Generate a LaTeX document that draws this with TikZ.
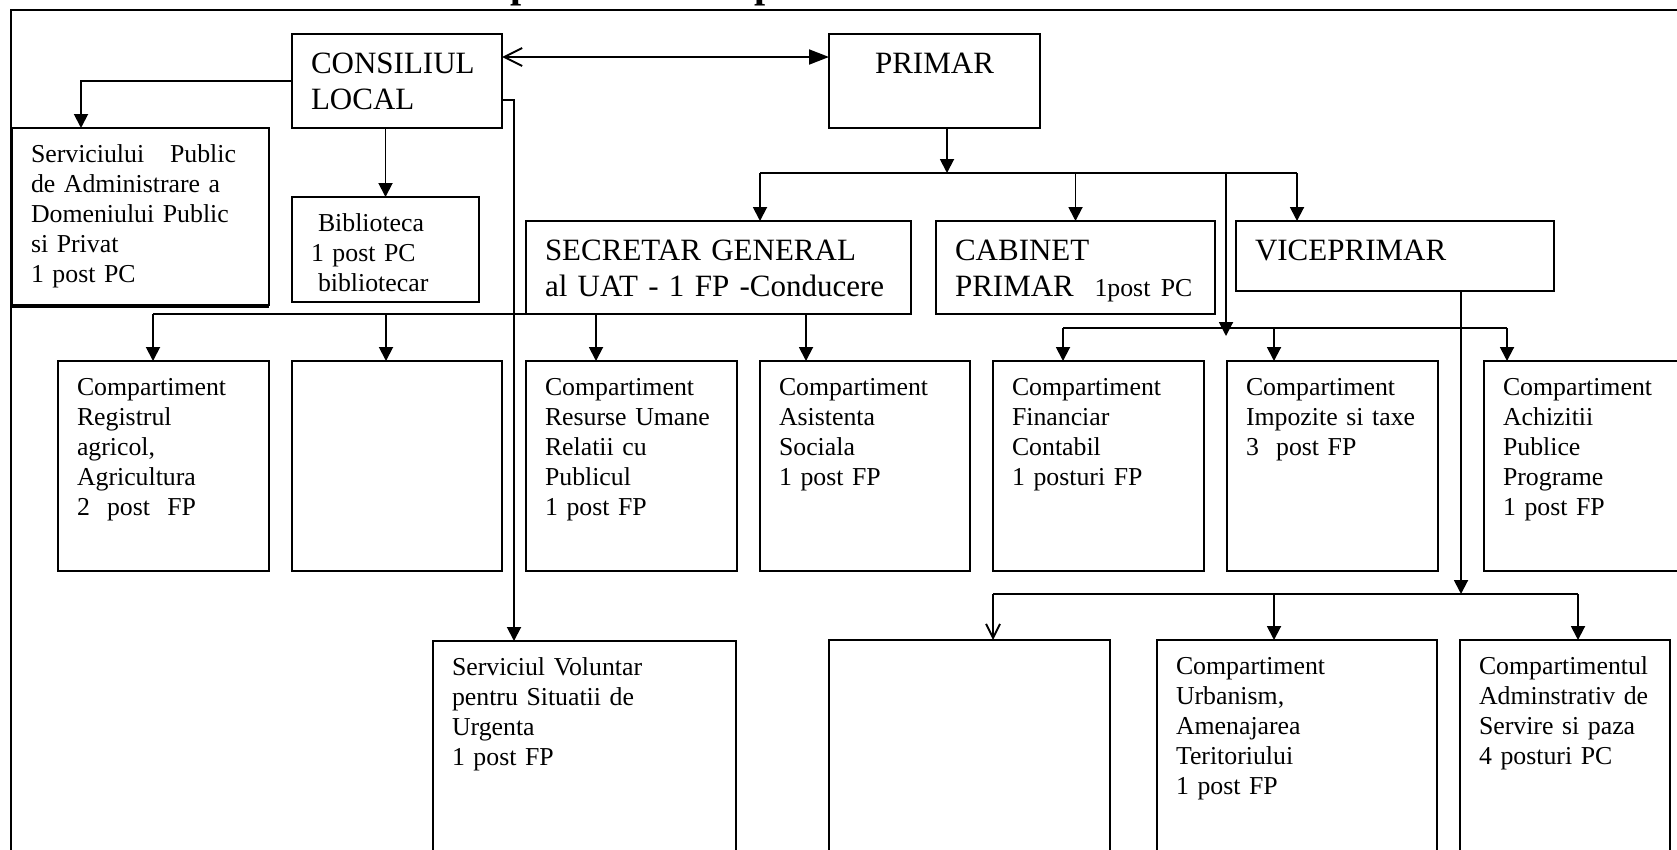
\documentclass[tikz,border=0pt]{standalone}
\usepackage{fontspec}
\setmainfont{Liberation Serif}
\usetikzlibrary{arrows.meta}
\newcommand{\normtxt}{\fontsize{25.8}{30}\selectfont}
\newcommand{\bigtxt}{\fontsize{31}{36}\selectfont}
\begin{document}
\begin{tikzpicture}
[x=1pt,y=-1pt,
 cell/.style={rectangle,draw,line width=2pt,anchor=north west,outer sep=0pt,inner xsep=19pt,inner ysep=13pt,align=left,font=\normtxt,text height=21pt},
 bigcell/.style={cell,font=\bigtxt,text height=26pt},
 ttl/.style={font=\bfseries\fontsize{40}{40}\selectfont,anchor=base west,inner sep=0pt},
 link/.style={line width=1.9pt},
 arr/.style={link,-{Triangle[length=14pt,width=14pt]}},
 openarr/.style={link,-{Straight Barb[length=14pt,width=14pt]}},
 hv path/.style={to path={-| (\tikztotarget)}},
 vh path/.style={to path={|- (\tikztotarget)}}]
\useasboundingbox (0,0) rectangle (1677,849);
\draw[line width=2.5pt] (11,10) rectangle (1730,900);
% cut title
\node[ttl] (ttlA) at (510,-2.5) {p};
\node[ttl] (ttlB) at (754,-2.5) {p};
% top
\node[bigcell,text width=172pt,text depth=42pt] (cl)     at ( 292, 34) {CONSILIUL\\LOCAL};
\node[bigcell,text width=173pt,text depth=42pt,align=center] (primar) at ( 829, 34) {PRIMAR};
\node[cell,text width=219pt,text depth=130pt]   (svc)    at (  12,128) {Serviciului~~~Public\\de Administrare a\\Domeniului Public\\si Privat\\1 post PC};
\node[cell,text width=149pt,text depth=58pt]    (bib)    at ( 292,197) {\hspace*{7pt}Biblioteca\\1 post PC\\\hspace*{7pt}bibliotecar};
\node[bigcell,text width=347pt,text depth=41pt] (secr)   at ( 526,221) {SECRETAR GENERAL\\al UAT - 1 FP -Conducere};
\node[bigcell,text width=241pt,text depth=41pt] (cab)    at ( 936,221) {CABINET\\PRIMAR~~{\normtxt 1post PC}};
\node[bigcell,text width=280pt,text depth=18pt] (vice)   at (1236,221) {VICEPRIMAR};
% middle row
\node[cell,text width=173pt,text depth=163pt] (reg) at (  58,361) {Compartiment\\Registrul\\agricol,\\Agricultura\\2~~post~~FP};
\node[cell,text width=172pt,text depth=163pt] (emA) at ( 292,361) {};
\node[cell,text width=173pt,text depth=163pt] (res) at ( 526,361) {Compartiment\\Resurse Umane\\Relatii cu\\Publicul\\1 post FP};
\node[cell,text width=172pt,text depth=163pt] (asi) at ( 760,361) {Compartiment\\Asistenta\\Sociala\\1 post FP};
\node[cell,text width=173pt,text depth=163pt] (fin) at ( 993,361) {Compartiment\\Financiar\\Contabil\\1 posturi FP};
\node[cell,text width=173pt,text depth=163pt] (imp) at (1227,361) {Compartiment\\Impozite si taxe\\3~~post FP};
\node[cell,text width=192pt,text depth=163pt] (ach) at (1484,361) {Compartiment\\Achizitii\\Publice\\Programe\\1 post FP};
% bottom row
\node[cell,text width=265pt,text depth=183pt] (vol) at ( 433,641) {Serviciul Voluntar\\pentru Situatii de\\Urgenta\\1 post FP};
\node[cell,text width=243pt,text depth=183pt] (emB) at ( 829,640) {};
\node[cell,text width=242pt,text depth=183pt] (urb) at (1157,640) {Compartiment\\Urbanism,\\Amenajarea\\Teritoriului\\1 post FP};
\node[cell,text width=172pt,text depth=183pt] (adm) at (1460,640) {Compartimentul\\Adminstrativ de\\Servire si paza\\4 posturi PC};
\draw[line width=4.5pt] ([yshift=-1pt]svc.south west) -- ([yshift=-1pt]svc.south east);
\coordinate (hubP)  at ( 947,173);
\coordinate (busPL) at ( 760,173);
\coordinate (busPR) at (1297,173);
\coordinate (dropF) at (1226,173);
\coordinate (dropFend) at (1226,336);
\coordinate (busSL) at ( 153,314);
\coordinate (busSR) at ( 806,314);
\coordinate (busFL) at (1063,328);
\coordinate (busFR) at (1507,328);
\coordinate (hubV)  at (1461,594);
\coordinate (busVL) at ( 993,594);
\coordinate (busVR) at (1578,594);
\path (cl.west)  edge[arr,hv path] ([xshift=69pt]svc.north west)
      (cl.south -| bib.north) edge[arr] (bib.north)
      ([yshift=-66pt]cl.north east) edge[arr,hv path] ([xshift=81pt]vol.north west)
      ([yshift=-23pt]cl.north east) edge[link,{Straight Barb[length=18pt,width=18pt]}-{Triangle[length=20pt,width=15pt]}] ([yshift=-23pt]primar.north west)
      ([xshift=118pt]primar.south west) edge[arr] (hubP)
      (busPL)    edge[link] (busPR)
                 edge[arr] ([xshift=234pt]secr.north west)
      (busPL -| cab.north) edge[arr] (cab.north)
      (busPR)    edge[arr] ([xshift=61pt]vice.north west)
      (dropF)    edge[arr] (dropFend)
      (busSL)    edge[link] (busSR)
                 edge[arr] (busSL |- reg.north)
      ([xshift=94pt]emA.north west |- busSL) edge[arr] ([xshift=94pt]emA.north west)
      ([xshift=70pt]res.north west |- busSL) edge[arr] ([xshift=70pt]res.north west)
      (busSR)    edge[arr] (busSR |- asi.north)
      (busFL)    edge[link] (busFR)
                 edge[arr] (busFL |- fin.north)
      ([xshift=47pt]imp.north west |- busFL) edge[arr] ([xshift=47pt]imp.north west)
      (busFR)    edge[arr] (busFR |- ach.north)
      ([xshift=225pt]vice.south west) edge[arr] (hubV)
      (busVL)    edge[link] (busVR)
                 edge[openarr] (busVL |- emB.north)
      ([xshift=117pt]urb.north west |- busVL) edge[arr] ([xshift=117pt]urb.north west)
      (busVR)    edge[arr] (busVR |- adm.north);
\end{tikzpicture}
\end{document}
